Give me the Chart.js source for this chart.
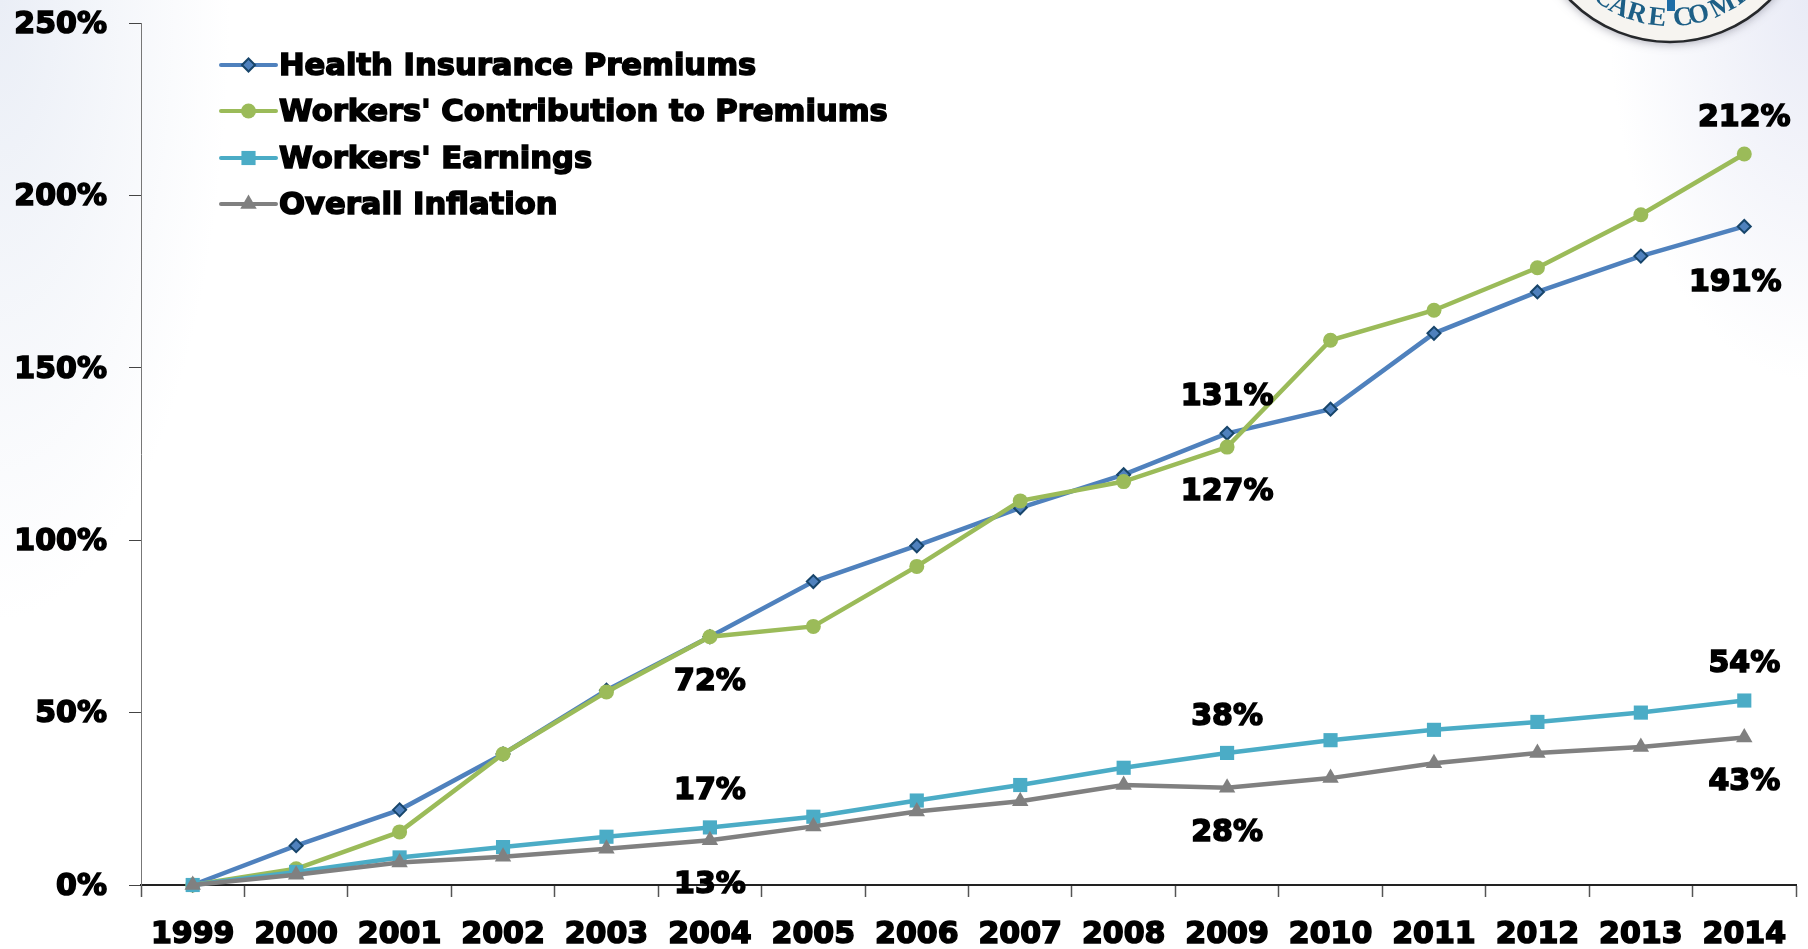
<!DOCTYPE html>
<html>
<head>
<meta charset="utf-8">
<title>Cumulative increases</title>
<script src="https://cdn.jsdelivr.net/npm/chart.js@4"></script>
<style>
  html, body { margin: 0; padding: 0; width: 1808px; height: 949px; overflow: hidden; background: #fff; }
  #wrap {
    position: relative; width: 1808px; height: 949px;
    background:
      radial-gradient(ellipse 230px 620px at 0 0, #eaeef6 0%, rgba(255,255,255,0) 100%),
      radial-gradient(ellipse 200px 380px at 100% 0, #e9ebf6 0%, rgba(255,255,255,0) 100%),
      #fff;
  }
  canvas { position: absolute; left: 0; top: 0; }
</style>
</head>
<body>
<div id="wrap"><canvas id="chart" width="1808" height="949"></canvas></div>
<script>
  const years = ['1999','2000','2001','2002','2003','2004','2005','2006','2007','2008','2009','2010','2011','2012','2013','2014'];
  const seriesNames = ['Health Insurance Premiums', "Workers' Contribution to Premiums", "Workers' Earnings", 'Overall Inflation'];

  const premiums = [0, 11.4, 21.8, 38, 56.5, 72, 88, 98.4, 109.4, 119, 131, 138, 160, 172, 182.4, 191];
  const contributions = [0, 4.7, 15.4, 38, 56, 72, 75, 92.4, 111.4, 117, 127, 158, 166.7, 179, 194.4, 212];
  const earnings = [0, 3.8, 8, 11, 14, 16.7, 19.8, 24.5, 29, 34, 38.3, 42, 45, 47.3, 50, 53.5];
  const inflation = [0, 3, 6.5, 8.2, 10.5, 13, 17, 21.3, 24.3, 29, 28.2, 31, 35.3, 38.3, 40, 42.8];

  // [series index, year, text, above or below the point]
  const callouts = [
    [1, '2014', '212%', 'above'],
    [0, '2014', '191%', 'low'],
    [0, '2009', '131%', 'above'],
    [1, '2009', '127%', 'below'],
    [0, '2004', '72%', 'below'],
    [2, '2004', '17%', 'above'],
    [3, '2004', '13%', 'below'],
    [2, '2009', '38%', 'above'],
    [3, '2009', '28%', 'below'],
    [2, '2014', '54%', 'above'],
    [3, '2014', '43%', 'below']
  ];

  const FONT = '"DejaVu Sans", sans-serif';

  function line(label, data, color, pointStyle, radius, border, order) {
    return {
      label, data, order,
      clip: false,
      borderColor: color,
      backgroundColor: color,
      borderWidth: 4.5,
      tension: 0,
      pointStyle,
      pointRadius: radius,
      pointHoverRadius: radius,
      pointBackgroundColor: color,
      pointBorderColor: border,
      pointBorderWidth: border === color ? 0 : 2
    };
  }

  // Markers inside the line sample, drawn next to the text
  const legendPlugin = {
    id: 'lineLegend',
    afterDraw(chart) {
      const ctx = chart.ctx;
      const x0 = 221, x1 = 276, textX = 279;
      const rows = [65, 111, 158, 204];
      ctx.save();
      ctx.textBaseline = 'middle';
      chart.data.datasets.forEach((ds, i) => {
        const y = rows[i];
        ctx.strokeStyle = ds.borderColor;
        ctx.lineWidth = 4;
        ctx.lineCap = 'round';
        ctx.beginPath();
        ctx.moveTo(x0, y);
        ctx.lineTo(x1, y);
        ctx.stroke();
        ctx.fillStyle = ds.pointBackgroundColor;
        ctx.strokeStyle = ds.pointBorderColor;
        ctx.lineWidth = ds.pointBorderWidth;
        Chart.helpers.drawPoint(ctx, {
          pointStyle: ds.pointStyle,
          rotation: 0,
          radius: ds.pointRadius,
          borderWidth: ds.pointBorderWidth
        }, (x0 + x1) / 2, y);
        ctx.font = 'bold 30.6px ' + FONT;
        ctx.fillStyle = '#000';
        ctx.strokeStyle = '#000';
        ctx.lineWidth = 1.6;
        ctx.fillText(ds.label, textX, y + 2);
        ctx.strokeText(ds.label, textX, y + 2);
      });
      ctx.restore();
    }
  };

  const calloutPlugin = {
    id: 'callouts',
    afterDraw(chart) {
      const ctx = chart.ctx;
      const xs = chart.scales.x, ys = chart.scales.y;
      ctx.save();
      ctx.font = 'bold 30px ' + FONT;
      ctx.textAlign = 'center';
      ctx.textBaseline = 'middle';
      ctx.fillStyle = '#000';
      ctx.strokeStyle = '#000';
      ctx.lineWidth = 1.6;
      callouts.forEach(([s, year, text, where]) => {
        const idx = years.indexOf(year);
        const x = xs.getPixelForValue(idx);
        const y = ys.getPixelForValue(chart.data.datasets[s].data[idx]);
        let tx = x, ty = y - 36;
        if (where === 'below') ty = y + 45;
        if (where === 'low') { tx = x - 9; ty = y + 57; }
        ctx.fillText(text, tx, ty);
        ctx.strokeText(text, tx, ty);
      });
      ctx.restore();
    }
  };

  // Seal cut off by the top edge of the slide
  const sealLetters = [['C', 0.6], ['A', 0.45], ['R', 0.29], ['E', 0.11], ['C', -0.11], ['O', -0.25], ['M', -0.47], ['P', -0.65]];
  const sealPlugin = {
    id: 'seal',
    beforeDraw(chart) {
      const ctx = chart.ctx;
      const cx = 1670, cy = -98, r = 140;
      ctx.save();
      ctx.shadowColor = 'rgba(90,90,110,0.5)';
      ctx.shadowBlur = 10;
      ctx.shadowOffsetY = 2;
      ctx.beginPath();
      ctx.arc(cx, cy, r, 0, Math.PI * 2);
      ctx.fillStyle = '#f6f4f0';
      ctx.fill();
      ctx.shadowColor = 'transparent';
      ctx.strokeStyle = '#26282b';
      ctx.lineWidth = 2.5;
      ctx.stroke();
      ctx.fillStyle = '#1f6da6';
      ctx.fillRect(cx - 3, 0, 8, 11);
      ctx.font = 'bold 27px "Liberation Serif", serif';
      ctx.fillStyle = '#1d5f86';
      ctx.textAlign = 'center';
      ctx.textBaseline = 'middle';
      sealLetters.forEach(([c, offset]) => {
        const a = Math.PI / 2 + offset;
        ctx.save();
        ctx.translate(cx + Math.cos(a) * 117, cy + Math.sin(a) * 117);
        ctx.rotate(a - Math.PI / 2);
        ctx.fillText(c, 0, 0);
        ctx.restore();
      });
      ctx.restore();
    }
  };

  new Chart(document.getElementById('chart'), {
    type: 'line',
    data: {
      labels: years,
      datasets: [
        line(seriesNames[0], premiums, '#4f81bd', 'rectRot', 6.5, '#17456b', 3),
        line(seriesNames[1], contributions, '#9bbb59', 'circle', 7.5, '#9bbb59', 2),
        line(seriesNames[2], earnings, '#4bacc6', 'rect', 10, '#4bacc6', 1),
        line(seriesNames[3], inflation, '#808080', 'triangle', 9.5, '#808080', 0)
      ]
    },
    options: {
      responsive: false,
      animation: false,
      layout: { padding: { top: 23, right: 12, bottom: 0, left: 0 } },
      plugins: { legend: { display: false }, tooltip: { enabled: false } },
      scales: {
        x: {
          type: 'category',
          offset: true,
          afterFit(scale) {
            scale.height = 64;
            scale.paddingLeft = 0;
            scale.paddingRight = 0;
          },
          border: { color: '#222', width: 2 },
          grid: { offset: true, drawOnChartArea: false, drawTicks: true, tickLength: 12, color: '#555', tickWidth: 1.5 },
          ticks: {
            color: '#000',
            padding: 20,
            maxRotation: 0,
            autoSkip: false,
            textStrokeColor: '#000',
            textStrokeWidth: 1.6,
            font: { family: FONT, size: 30, weight: 'bold' }
          }
        },
        y: {
          min: 0,
          max: 250,
          afterFit(scale) {
            scale.width = 141;
            scale.paddingTop = 0;
            scale.paddingBottom = 0;
          },
          border: { color: '#777', width: 1 },
          grid: { drawOnChartArea: false, drawTicks: true, tickLength: 12, color: '#444', tickWidth: 1 },
          ticks: {
            stepSize: 50,
            color: '#000',
            padding: 22,
            labelOffset: 2,
            textStrokeColor: '#000',
            textStrokeWidth: 1.6,
            font: { family: FONT, size: 30, weight: 'bold' },
            callback: v => v + '%'
          }
        }
      }
    },
    plugins: [sealPlugin, legendPlugin, calloutPlugin]
  });
</script>
</body>
</html>
